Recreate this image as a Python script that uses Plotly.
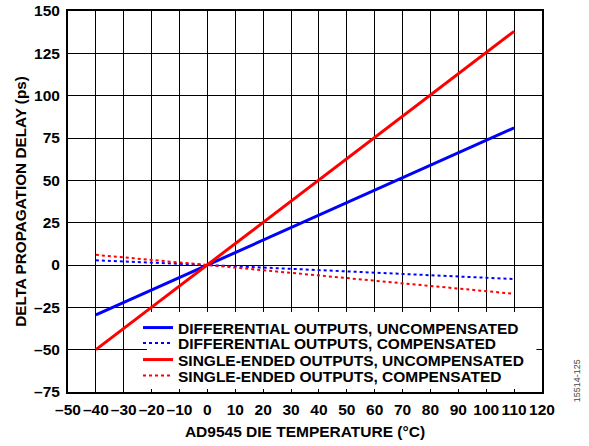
import plotly.graph_objects as go

temps = [-40, 0, 110]
diff_uncomp = [-29.5, 0, 81]
diff_comp = [2.8, 0, -8.3]
se_uncomp = [-50, 0, 138]
se_comp = [6, 0, -17]

x_ticks = list(range(-50, 121, 10))
y_ticks = list(range(-75, 151, 25))

def lab(v):
    return ("\u2013" + str(-v)) if v < 0 else str(v)

FONT = "Liberation Sans, Arial, sans-serif"
LFONT = dict(family=FONT, size=15.5, color="black", weight="bold")

fig = go.Figure()
fig.add_trace(go.Scatter(x=temps, y=diff_uncomp, mode="lines",
                         name="DIFFERENTIAL OUTPUTS, UNCOMPENSATED", legend="legend",
                         line=dict(color="#0000FF", width=3)))
fig.add_trace(go.Scatter(x=temps, y=diff_comp, mode="lines",
                         name="DIFFERENTIAL OUTPUTS, COMPENSATED", legend="legend2",
                         line=dict(color="#0000FF", width=2, dash="dot")))
fig.add_trace(go.Scatter(x=temps, y=se_uncomp, mode="lines",
                         name="SINGLE-ENDED OUTPUTS, UNCOMPENSATED", legend="legend3",
                         line=dict(color="#FF0000", width=3)))
fig.add_trace(go.Scatter(x=temps, y=se_comp, mode="lines",
                         name="SINGLE-ENDED OUTPUTS, COMPENSATED", legend="legend4",
                         line=dict(color="#FF0000", width=2, dash="dot")))

def leg(yc):
    return dict(x=0.1477, y=yc, xanchor="left", yanchor="middle",
                bgcolor="rgba(0,0,0,0)", borderwidth=0, font=LFONT)

fig.update_layout(
    width=589, height=446, autosize=False,
    margin=dict(l=68, r=47, t=11, b=54),
    paper_bgcolor="white", plot_bgcolor="white",
    font=dict(family=FONT, size=15.5, color="black", weight="bold"),
    showlegend=True,
    legend=leg(0.168), legend2=leg(0.1273), legend3=leg(0.084), legend4=leg(0.042),
    xaxis=dict(range=[-50, 120], tickvals=x_ticks, ticktext=[lab(v) for v in x_ticks],
               showgrid=True, gridcolor="black", gridwidth=1,
               showline=True, linecolor="black", linewidth=2, mirror=True,
               zeroline=False, ticks="", automargin=False, ticklabelstandoff=2,
               tickfont=dict(family=FONT, size=15.5, weight="bold"),
               title=dict(text="AD9545 DIE TEMPERATURE (°C)", standoff=10,
                          font=dict(family=FONT, size=15.5, weight="bold"))),
    yaxis=dict(range=[-75, 150], tickvals=y_ticks, ticktext=[lab(v) for v in y_ticks],
               showgrid=True, gridcolor="black", gridwidth=1,
               showline=True, linecolor="black", linewidth=2, mirror=True,
               zeroline=False, ticks="", automargin=False, ticklabelstandoff=3,
               tickfont=dict(family=FONT, size=15.5, weight="bold"),
               title=dict(text="DELTA PROPAGATION DELAY (ps)", standoff=4,
                          font=dict(family=FONT, size=15.3, weight="bold"))),
)

# white backing panel behind the legend entries
fig.add_shape(type="rect", xref="x", yref="y", x0=-21.7, x1=118.0, y0=-73.2, y1=-27.8,
              fillcolor="white", line=dict(width=0), layer="above")

fig.add_annotation(text="15514-125", xref="paper", yref="paper",
                   x=1.073, y=0.03, xanchor="center", yanchor="middle",
                   textangle=-90, showarrow=False,
                   font=dict(family=FONT, size=9, color="#444444", weight="normal"))

post = ("document.body.style.margin='0';document.body.style.overflow='hidden';"
        "var gd=document.getElementById('{plot_id}');"
        "Plotly.relayout(gd,{width:589,height:446});")

fig.write_html("out.html", config={"responsive": False, "displayModeBar": False},
               post_script=post)
